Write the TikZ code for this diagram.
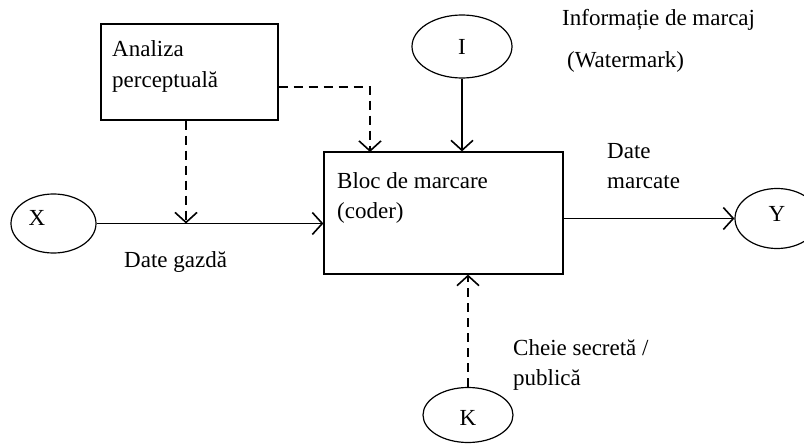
\documentclass[tikz,border=0pt]{standalone}
\usepackage{fontspec}
\setmainfont{Liberation Serif}
\usetikzlibrary{arrows.meta,shapes.geometric,calc}
\begin{document}
\begin{tikzpicture}[x=1pt,y=-1pt,
  every node/.style={font=\fontsize{23}{30}\selectfont},
  ln/.style={line width=1.2pt},
  arr/.style={ln,-{Straight Barb[length=10pt,width=22pt,line width=1.6pt]}},
  dsh/.style={dash pattern=on 9pt off 6pt},
  box/.style={draw,ln,rectangle,inner sep=0pt},
  ell/.style={draw,ln,ellipse,inner sep=0pt},
  lbl/.style={anchor=base west,inner sep=0pt},
  let/.style={anchor=base,inner sep=0pt}]
\clip (0,0) rectangle (804,444);
\fill[white] (0,0) rectangle (804,444);
% boxes
\node[box,minimum width=177pt,minimum height=96pt] (A) at (189.5,72) {};
\node[box,minimum width=239pt,minimum height=122pt] (B) at (443.5,213) {};
% ellipses
\node[ell,minimum width=85pt,minimum height=59pt] (X) at (53.5,223.5) {};
\node[ell,minimum width=84pt,minimum height=60pt] (Y) at (777,218.5) {};
\node[ell,minimum width=100pt,minimum height=63pt] (I) at (462,46.5) {};
\node[ell,minimum width=90pt,minimum height=55pt] (K) at (468,415) {};
% letters
\node[let] (xl) at (37,225) {X};
\node[let] (yl) at (777,221) {Y};
\node[let] (il) at (462,55) {I};
\node[let] (kl) at (468,425) {K};
% texts
\node[lbl] (t1) at (112,57) {Analiza};
\node[lbl] (t2) at (112,88) {perceptuală};
\node[lbl] (t3) at (337,188) {Bloc de marcare};
\node[lbl] (t4) at (337,218) {(coder)};
\node[lbl] (t5) at (562,26) {Informație de marcaj};
\node[lbl] (t6) at (567,68) {(Watermark)};
\node[lbl] (t7) at (607,158) {Date};
\node[lbl] (t8) at (607,188) {marcate};
\node[lbl] (t9) at (124,267) {Date gazdă};
\node[lbl] (t10) at (513,355) {Cheie secretă /};
\node[lbl] (t11) at (513,385) {publică};
% connectors
\draw[arr] (X.east) -- (X.east -| B.west);
\draw[arr] (B.east |- Y.west) -- (Y.west);
\draw[arr] (I.south) -- (I.south |- B.north);
\draw[arr,dsh] (K.north) -- (K.north |- B.south);
\coordinate (a1) at ([xshift=-3.5pt]A.south);
\draw[arr,dsh] (a1) -- (a1 |- X.east);
\coordinate (a2) at ([yshift=-15pt]A.east);
\coordinate (a3) at (370,152);
\draw[arr,dsh] (a2) -| (a3);
\end{tikzpicture}
\end{document}
